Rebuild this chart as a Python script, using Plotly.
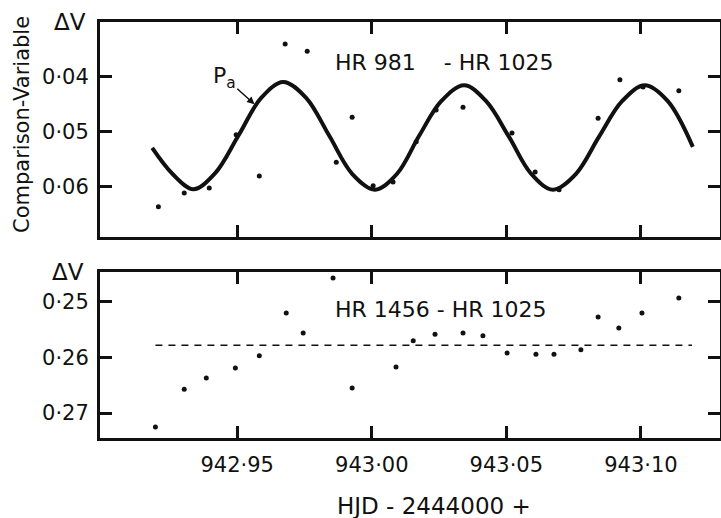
import plotly.graph_objects as go

# ---------------- data ----------------
# Top panel: HR 981 - HR 1025 (observations)
top_x = [942.9207, 942.9303, 942.9396, 942.9496, 942.9582, 942.9678, 942.9760,
         942.9868, 942.9927, 943.0005, 943.0079, 943.0165, 943.0239, 943.0339,
         943.0521, 943.0607, 943.0696, 943.0841, 943.0922, 943.1008, 943.1141]
top_y = [0.0636, 0.0611, 0.0602, 0.0505, 0.0580, 0.0340, 0.0353,
         0.0555, 0.0473, 0.0598, 0.0591, 0.0518, 0.0460, 0.0455,
         0.0502, 0.0573, 0.0605, 0.0475, 0.0405, 0.0418, 0.0425]

# Fitted curve P_a
curve_x = [942.9184, 942.9259, 942.9337, 942.9418, 942.9504, 942.9589, 942.9671,
           942.9756, 942.9842, 942.9927, 943.0012, 943.0094, 943.0176, 943.0258,
           943.0343, 943.0425, 943.0510, 943.0592, 943.0673, 943.0759, 943.0844,
           943.0930, 943.1015, 943.1100, 943.1193]
curve_y = [0.0529, 0.0576, 0.0604, 0.0575, 0.0507, 0.0438, 0.0409,
           0.0438, 0.0507, 0.0576, 0.0605, 0.0576, 0.0507, 0.0444,
           0.0415, 0.0444, 0.0509, 0.0576, 0.0605, 0.0576, 0.0509,
           0.0444, 0.0415, 0.0444, 0.0527]

# Bottom panel: HR 1456 - HR 1025
bot_x = [942.9196, 942.9303, 942.9385, 942.9493, 942.9582, 942.9682, 942.9745,
         942.9856, 942.9927, 943.0090, 943.0154, 943.0235, 943.0339, 943.0413,
         943.0503, 943.0610, 943.0677, 943.0777, 943.0841, 943.0918, 943.1004,
         943.1141]
bot_y = [0.2725, 0.2657, 0.2637, 0.2619, 0.2597, 0.2520, 0.2556,
         0.2457, 0.2655, 0.2617, 0.2570, 0.2558, 0.2556, 0.2561,
         0.2592, 0.2594, 0.2594, 0.2586, 0.2527, 0.2547, 0.2520,
         0.2493]

mean_x = [942.9196, 943.1190]
mean_y = [0.2578, 0.2578]

x_tickvals = [942.95, 943.00, 943.05, 943.10]
x_ticktext = ["942·95", "943·00", "943·05", "943·10"]
top_tickvals = [0.04, 0.05, 0.06]
top_ticktext = ["0·04", "0·05", "0·06"]
bot_tickvals = [0.25, 0.26, 0.27]
bot_ticktext = ["0·25", "0·26", "0·27"]

# ---------------- layout helpers ----------------
W, H = 721, 518
def px(x):
    return x / W
def py(y):
    return 1 - y / H

FONT = "DejaVu Sans"
BLACK = "#111111"

fig = go.Figure()

fig.add_trace(go.Scatter(x=curve_x, y=curve_y, mode="lines",
                         line=dict(color=BLACK, width=4, shape="spline", smoothing=1.0),
                         xaxis="x", yaxis="y", showlegend=False, hoverinfo="skip"))
fig.add_trace(go.Scatter(x=top_x, y=top_y, mode="markers",
                         marker=dict(color=BLACK, size=5),
                         xaxis="x", yaxis="y", showlegend=False))
fig.add_trace(go.Scatter(x=mean_x, y=mean_y, mode="lines",
                         line=dict(color=BLACK, width=1.6, dash="7px,6px"),
                         xaxis="x2", yaxis="y2", showlegend=False, hoverinfo="skip"))
fig.add_trace(go.Scatter(x=bot_x, y=bot_y, mode="markers",
                         marker=dict(color=BLACK, size=5),
                         xaxis="x2", yaxis="y2", showlegend=False))

xrange_ = [942.899, 943.1294]
axis_common = dict(showline=True, linecolor=BLACK, linewidth=3, mirror="ticks",
                   ticks="inside", tickcolor=BLACK, tickwidth=2.5, ticklen=12,
                   showgrid=False, zeroline=False, automargin=False,
                   tickfont=dict(family=FONT, size=21, color=BLACK))

fig.update_layout(
    width=W, height=H,
    margin=dict(l=0, r=0, t=0, b=0, pad=0, autoexpand=False),
    paper_bgcolor="white", plot_bgcolor="white",
    xaxis=dict(domain=[px(100), px(720)], range=xrange_, anchor="y",
               tickvals=x_tickvals, showticklabels=False, **axis_common),
    yaxis=dict(domain=[py(237), py(22)], range=[0.0691, 0.0300], anchor="x",
               tickvals=top_tickvals, ticktext=top_ticktext,
               ticklabelstandoff=4, **axis_common),
    xaxis2=dict(domain=[px(100), px(720)], range=xrange_, anchor="y2",
                tickvals=x_tickvals, ticktext=x_ticktext,
                ticklabelstandoff=6, **axis_common),
    yaxis2=dict(domain=[py(438), py(272)], range=[0.2745, 0.2446], anchor="x2",
                tickvals=bot_tickvals, ticktext=bot_ticktext,
                ticklabelstandoff=4, **axis_common),
)

ann = []
ann.append(dict(xref="paper", yref="paper", x=px(22), y=py(125),
                xanchor="center", yanchor="middle",
                text="Comparison-Variable", textangle=-90, showarrow=False,
                font=dict(family=FONT, size=21, color=BLACK)))
ann.append(dict(xref="paper", yref="paper", x=px(70), y=py(22),
                xanchor="center", yanchor="middle",
                text="ΔV", showarrow=False,
                font=dict(family=FONT, size=23, color=BLACK)))
ann.append(dict(xref="paper", yref="paper", x=px(68), y=py(272),
                xanchor="center", yanchor="middle",
                text="ΔV", showarrow=False,
                font=dict(family=FONT, size=23, color=BLACK)))
ann.append(dict(xref="paper", yref="paper", x=px(434), y=py(506),
                xanchor="center", yanchor="middle",
                text="HJD - 2444000 +", showarrow=False,
                font=dict(family=FONT, size=23, color=BLACK)))
ann.append(dict(xref="x", yref="y", x=942.9856, y=0.03745, xanchor="left",
                text="HR 981\u00a0\u00a0\u00a0\u00a0- HR 1025", showarrow=False,
                font=dict(family=FONT, size=22, color=BLACK)))
ann.append(dict(xref="x2", yref="y2", x=942.9856, y=0.2514, xanchor="left",
                text="HR 1456 - HR 1025", showarrow=False,
                font=dict(family=FONT, size=22, color=BLACK)))
ann.append(dict(xref="x", yref="y", x=942.9567, y=0.0451,
                text="P<sub>a</sub>", showarrow=True, ax=-31, ay=-28,
                arrowhead=2, arrowsize=1, arrowwidth=1.5, arrowcolor=BLACK,
                standoff=1,
                font=dict(family=FONT, size=22, color=BLACK)))
fig.update_layout(annotations=ann)

fig.write_html("out.html",
               config={"displayModeBar": False},
               post_script="document.body.style.margin='0';"
                           "document.body.style.overflow='hidden';")
